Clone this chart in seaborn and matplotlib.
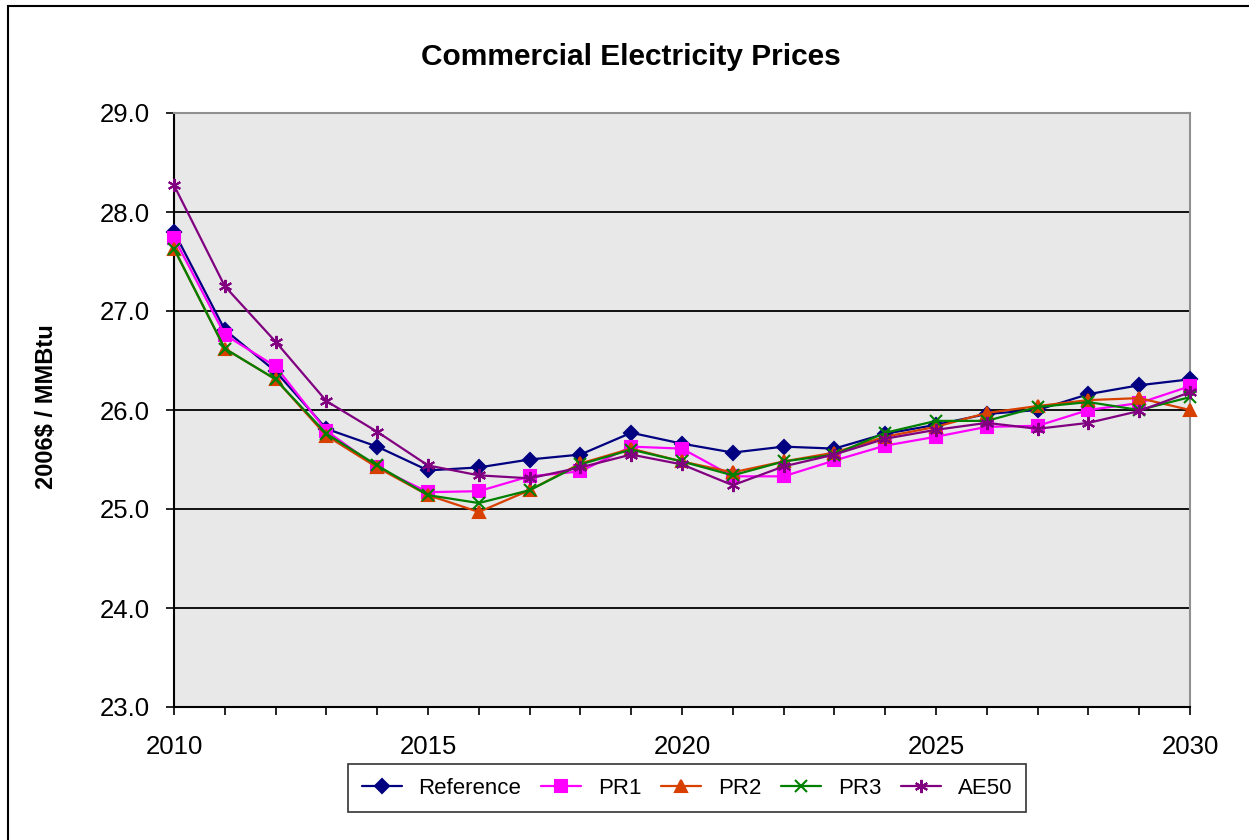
import numpy as np
import pandas as pd
import matplotlib
matplotlib.use("Agg")
import matplotlib.pyplot as plt
from matplotlib.patches import Rectangle
from matplotlib.ticker import MultipleLocator, FormatStrFormatter
import seaborn as sns

years = list(range(2010, 2031))

reference = [27.80, 26.81, 26.39, 25.81, 25.63, 25.39, 25.42, 25.50, 25.55, 25.77, 25.66,
             25.57, 25.63, 25.61, 25.76, 25.85, 25.96, 26.00, 26.16, 26.25, 26.31]
pr1 = [27.74, 26.76, 26.44, 25.79, 25.42, 25.17, 25.18, 25.33, 25.38, 25.63, 25.61,
       25.33, 25.33, 25.49, 25.64, 25.73, 25.83, 25.84, 26.00, 26.07, 26.24]
pr2 = [27.63, 26.62, 26.31, 25.74, 25.42, 25.14, 24.97, 25.19, 25.46, 25.61, 25.48,
       25.37, 25.48, 25.57, 25.73, 25.83, 25.97, 26.04, 26.10, 26.12, 26.00]
pr3 = [27.63, 26.62, 26.31, 25.76, 25.44, 25.14, 25.06, 25.19, 25.45, 25.60, 25.48,
       25.34, 25.48, 25.55, 25.77, 25.89, 25.89, 26.03, 26.08, 26.00, 26.13]
ae50 = [28.27, 27.25, 26.69, 26.09, 25.78, 25.44, 25.34, 25.31, 25.42, 25.55, 25.45,
        25.24, 25.43, 25.55, 25.71, 25.80, 25.87, 25.81, 25.87, 25.99, 26.18]

series_names = ["Reference", "PR1", "PR2", "PR3", "AE50"]
series_values = [reference, pr1, pr2, pr3, ae50]
colors = ["#000080", "#FF00FF", "#D84000", "#008000", "#800080"]
markers = ["D", "s", "^", "x", (6, 2, 0)]
marker_sizes = [7.5, 9, 9, 8, 9.5]

df = pd.DataFrame({
    "year": np.tile(years, len(series_names)),
    "price": np.concatenate(series_values),
    "scenario": np.repeat(series_names, len(years)),
})

sns.set_theme(style="white")
plt.rcParams["font.family"] = ["Liberation Sans", "DejaVu Sans"]
plt.rcParams["text.color"] = "black"
plt.rcParams["xtick.color"] = "black"
plt.rcParams["ytick.color"] = "black"

fig = plt.figure(figsize=(12.49, 8.4), dpi=100)
ax = fig.add_axes([174 / 1249, 1 - 707 / 840, (1190 - 174) / 1249, (707 - 113) / 840])
ax.set_facecolor("#E8E8E8")

for name, col, mk, ms in zip(series_names, colors, markers, marker_sizes):
    sub = df[df["scenario"] == name]
    sns.lineplot(data=sub, x="year", y="price", ax=ax, color=col, marker=mk,
                 markersize=ms, markeredgecolor=col, markeredgewidth=1.5,
                 linewidth=1.6, label=name, clip_on=False, zorder=3)

ax.set_xlim(2010, 2030)
ax.set_ylim(23, 29)
ax.xaxis.set_major_locator(MultipleLocator(5))
ax.xaxis.set_minor_locator(MultipleLocator(1))
ax.yaxis.set_major_locator(MultipleLocator(1))
ax.yaxis.set_major_formatter(FormatStrFormatter("%.1f"))
ax.tick_params(axis="both", which="both", direction="out", length=5.5, width=1.2,
               color="black", labelcolor="black", labelsize=18.5)
ax.tick_params(axis="x", which="both", bottom=True, pad=15)
ax.tick_params(axis="y", left=True, pad=12)
ax.grid(axis="y", color="black", linewidth=1.3, zorder=1)
ax.set_axisbelow(True)

for side in ["left", "bottom"]:
    ax.spines[side].set_color("black")
    ax.spines[side].set_linewidth(1.5)
for side in ["top", "right"]:
    ax.spines[side].set_color("#909090")
    ax.spines[side].set_linewidth(1.5)

ax.set_xlabel("")
ax.set_ylabel("")
fig.text(47 / 1249, 1 - 407 / 840, "2006$ / MMBtu", rotation=90, ha="center", va="center",
         fontsize=17, fontweight="bold", color="black")
fig.text(0.505, 1 - 57 / 840, "Commercial Electricity Prices", ha="center", va="center",
         fontsize=21.5, fontweight="bold", color="black")

ax.get_legend().remove()
handles, labels = ax.get_legend_handles_labels()
leg = fig.legend(handles, labels, loc="center", bbox_to_anchor=(687 / 1249, 1 - 788 / 840),
                 ncol=5, fontsize=16, frameon=True, fancybox=False, handlelength=1.8,
                 handletextpad=0.75, columnspacing=0.9, borderpad=0.6)
leg.get_frame().set_edgecolor("black")
leg.get_frame().set_linewidth(1.2)
for t in leg.get_texts():
    t.set_color("black")

fig.patches.append(Rectangle((8 / 1249, -0.1), 1.2, 1.1 - 6 / 840,
                             transform=fig.transFigure, fill=False,
                             edgecolor="black", linewidth=1.5))

fig.savefig("out.png", dpi=100)
